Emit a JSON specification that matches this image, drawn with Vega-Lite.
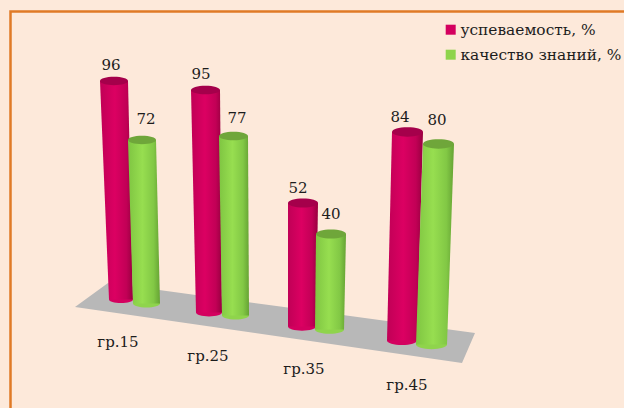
{
"$schema":"https://vega.github.io/schema/vega-lite/v6.json",
"width":624,"height":408,"padding":0,"autosize":{"type":"none"},
"background":"#fde9da",
"view":{"stroke":null},
"datasets":{
"frame":[{"x":10.5,"y":408},{"x":10.5,"y":11.5},{"x":624,"y":11.5}],
"floor":[{"y":283,"l":108,"r":108},{"y":307,"l":75,"r":284},{"y":333,"l":255,"r":475},{"y":363,"l":462,"r":462}],
"bars":[
{"group":"гр.15","series":"успеваемость, %","end":"top","y":81,"left":100,"right":128,"center":114,"diameter":28},
{"group":"гр.15","series":"успеваемость, %","end":"base","y":299.5,"left":109,"right":133,"center":121,"diameter":24},
{"group":"гр.15","series":"качество знаний, %","end":"top","y":140,"left":128,"right":156,"center":142,"diameter":28},
{"group":"гр.15","series":"качество знаний, %","end":"base","y":303.5,"left":133,"right":160,"center":146.5,"diameter":27},
{"group":"гр.25","series":"успеваемость, %","end":"top","y":90,"left":191,"right":220,"center":205.5,"diameter":29},
{"group":"гр.25","series":"успеваемость, %","end":"base","y":312.5,"left":196,"right":222,"center":209,"diameter":26},
{"group":"гр.25","series":"качество знаний, %","end":"top","y":136,"left":219,"right":248,"center":233.5,"diameter":29},
{"group":"гр.25","series":"качество знаний, %","end":"base","y":315.5,"left":222,"right":249,"center":235.5,"diameter":27},
{"group":"гр.35","series":"успеваемость, %","end":"top","y":203,"left":288,"right":318,"center":303,"diameter":30},
{"group":"гр.35","series":"успеваемость, %","end":"base","y":326.5,"left":288,"right":316,"center":302,"diameter":28},
{"group":"гр.35","series":"качество знаний, %","end":"top","y":234,"left":316,"right":346,"center":331,"diameter":30},
{"group":"гр.35","series":"качество знаний, %","end":"base","y":329.5,"left":315,"right":344,"center":329.5,"diameter":29},
{"group":"гр.45","series":"успеваемость, %","end":"top","y":132,"left":392,"right":423,"center":407.5,"diameter":31},
{"group":"гр.45","series":"успеваемость, %","end":"base","y":340.5,"left":387,"right":417,"center":402,"diameter":30},
{"group":"гр.45","series":"качество знаний, %","end":"top","y":144,"left":423,"right":454,"center":438.5,"diameter":31},
{"group":"гр.45","series":"качество знаний, %","end":"base","y":344.5,"left":416,"right":447,"center":431.5,"diameter":31}
],
"labels":[
{"value":96,"x":111,"y":65},{"value":72,"x":146,"y":119},{"value":95,"x":201,"y":74},{"value":77,"x":237,"y":118},
{"value":52,"x":298,"y":188},{"value":40,"x":331,"y":214},{"value":84,"x":400,"y":117},{"value":80,"x":437,"y":120}
],
"groups":[{"group":"гр.15","x":118,"y":342},{"group":"гр.25","x":208,"y":356},{"group":"гр.35","x":304,"y":369},{"group":"гр.45","x":407,"y":385}]
},
"layer":[
{"data":{"name":"frame"},"mark":{"type":"line","color":"#e07a26","strokeWidth":2.5,"strokeCap":"square"},
 "encoding":{"x":{"field":"x","type":"quantitative","scale":{"domain":[0,624],"nice":false},"axis":null},"y":{"field":"y","type":"quantitative","scale":{"domain":[408,0],"nice":false},"axis":null},"order":{"field":"x","type":"quantitative"}}},
{"data":{"name":"floor"},"mark":{"type":"area","orient":"horizontal","color":"#b8b8b8"},
 "encoding":{"y":{"field":"y","type":"quantitative","scale":{"domain":[408,0],"nice":false},"axis":null},"x":{"field":"l","type":"quantitative","scale":{"domain":[0,624],"nice":false},"axis":null},"x2":{"field":"r"}}},
{"data":{"name":"bars"},"transform":[{"filter":"datum.end==='base'"}],
 "mark":{"type":"point","filled":true,"opacity":1,"shape":"M-1,0A1,0.3 0 1,0 1,0A1,0.3 0 1,0 -1,0Z"},
 "encoding":{"x":{"field":"center","type":"quantitative","scale":{"domain":[0,624],"nice":false},"axis":null},"y":{"field":"y","type":"quantitative","scale":{"domain":[408,0],"nice":false},"axis":null},
 "size":{"field":"diameter","type":"quantitative","legend":null,"scale":{"type":"pow","exponent":2,"domain":[0,40],"range":[0,1600]}},
 "color":{"field":"series","type":"nominal","scale":{"domain":["успеваемость, %","качество знаний, %"],"range":["#d4005f","#8fd44c"]},
  "legend":{"title":null,"orient":"none","legendX":443,"legendY":22,"symbolType":"square","symbolSize":100,"labelFont":"DejaVu Serif","labelFontSize":15.4,"labelColor":"#1c1c1c","labelLimit":200,"rowPadding":8,"labelOffset":2,"symbolStrokeWidth":0}}}},
{"data":{"name":"bars"},"transform":[{"filter":"datum.series==='успеваемость, %'"}],
 "mark":{"type":"area","orient":"horizontal","color":{"gradient":"linear","x1":0,"x2":1,"y1":0,"y2":0,"stops":[{"offset":0,"color":"#c00056"},{"offset":0.45,"color":"#dc0062"},{"offset":0.8,"color":"#c20056"},{"offset":1,"color":"#98003f"}]}},
 "encoding":{"y":{"field":"y","type":"quantitative","scale":{"domain":[408,0],"nice":false},"axis":null},"x":{"field":"left","type":"quantitative","scale":{"domain":[0,624],"nice":false},"axis":null},"x2":{"field":"right"},"detail":{"field":"group"}}},
{"data":{"name":"bars"},"transform":[{"filter":"datum.series==='успеваемость, %' && datum.end==='top'"}],
 "mark":{"type":"point","filled":true,"opacity":1,"color":"#a5004b","shape":"M-1,0A1,0.3 0 1,0 1,0A1,0.3 0 1,0 -1,0Z"},
 "encoding":{"x":{"field":"center","type":"quantitative","scale":{"domain":[0,624],"nice":false},"axis":null},"y":{"field":"y","type":"quantitative","scale":{"domain":[408,0],"nice":false},"axis":null},"size":{"field":"diameter","type":"quantitative","legend":null,"scale":{"type":"pow","exponent":2,"domain":[0,40],"range":[0,1600]}}}},
{"data":{"name":"bars"},"transform":[{"filter":"datum.series==='качество знаний, %'"}],
 "mark":{"type":"area","orient":"horizontal","color":{"gradient":"linear","x1":0,"x2":1,"y1":0,"y2":0,"stops":[{"offset":0,"color":"#7fc542"},{"offset":0.45,"color":"#97de50"},{"offset":0.8,"color":"#82c845"},{"offset":1,"color":"#66a334"}]}},
 "encoding":{"y":{"field":"y","type":"quantitative","scale":{"domain":[408,0],"nice":false},"axis":null},"x":{"field":"left","type":"quantitative","scale":{"domain":[0,624],"nice":false},"axis":null},"x2":{"field":"right"},"detail":{"field":"group"}}},
{"data":{"name":"bars"},"transform":[{"filter":"datum.series==='качество знаний, %' && datum.end==='top'"}],
 "mark":{"type":"point","filled":true,"opacity":1,"color":"#6fa63a","shape":"M-1,0A1,0.3 0 1,0 1,0A1,0.3 0 1,0 -1,0Z"},
 "encoding":{"x":{"field":"center","type":"quantitative","scale":{"domain":[0,624],"nice":false},"axis":null},"y":{"field":"y","type":"quantitative","scale":{"domain":[408,0],"nice":false},"axis":null},"size":{"field":"diameter","type":"quantitative","legend":null,"scale":{"type":"pow","exponent":2,"domain":[0,40],"range":[0,1600]}}}},
{"data":{"name":"labels"},"mark":{"type":"text","font":"DejaVu Serif","fontSize":15,"color":"#1c1c1c","align":"center","baseline":"middle"},
 "encoding":{"x":{"field":"x","type":"quantitative","scale":{"domain":[0,624],"nice":false},"axis":null},"y":{"field":"y","type":"quantitative","scale":{"domain":[408,0],"nice":false},"axis":null},"text":{"field":"value","type":"quantitative"}}},
{"data":{"name":"groups"},"mark":{"type":"text","font":"DejaVu Serif","fontSize":15,"color":"#1c1c1c","align":"center","baseline":"middle"},
 "encoding":{"x":{"field":"x","type":"quantitative","scale":{"domain":[0,624],"nice":false},"axis":null},"y":{"field":"y","type":"quantitative","scale":{"domain":[408,0],"nice":false},"axis":null},"text":{"field":"group","type":"nominal"}}}
]
}
